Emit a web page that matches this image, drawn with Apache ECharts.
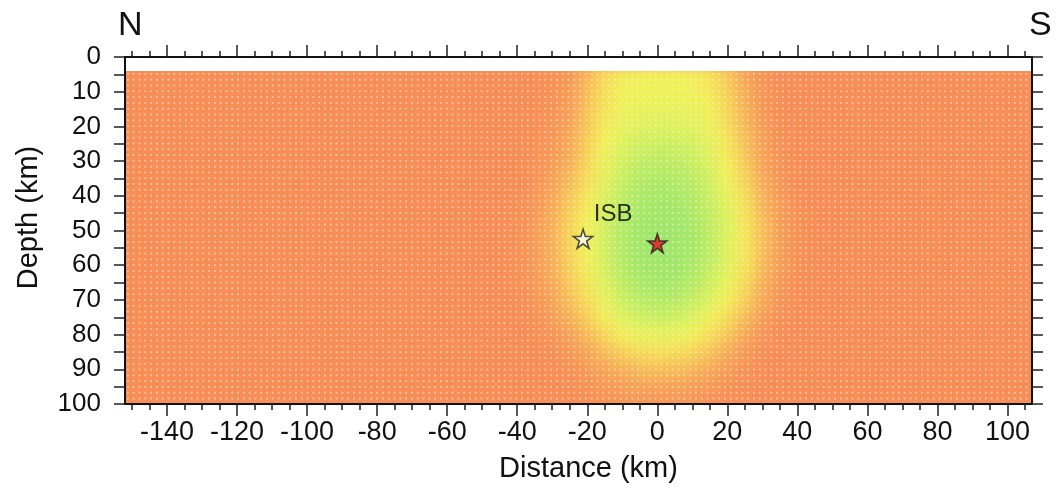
<!DOCTYPE html>
<html><head><meta charset="utf-8">
<script src="https://cdn.jsdelivr.net/npm/echarts@6/dist/echarts.min.js"></script>
<style>
html,body{margin:0;padding:0;background:#fff;}
#wrap{position:relative;width:1061px;height:488px;overflow:hidden;background:#fff;}
#fieldClip{position:absolute;overflow:hidden;}
#field{position:absolute;filter:blur(7px);}
#dots{position:absolute;left:0;top:0;right:0;bottom:0;
  background-image:radial-gradient(circle, rgba(255,235,210,0.55) 0.8px, rgba(255,235,210,0) 1.5px);
  background-size:5.8px 5.8px;}
#main{position:absolute;left:0;top:0;width:1061px;height:488px;}
</style></head><body>
<div id="wrap"><div id="fieldClip"><div id="field"></div><div id="dots"></div></div><div id="main"></div></div>
<script>
// ---------------- data ----------------
const xTickLabels = [-140,-120,-100,-80,-60,-40,-20,0,20,40,60,80,100];
const xTicks = [-150,-145,-140,-135,-130,-125,-120,-115,-110,-105,-100,-95,-90,-85,-80,-75,-70,-65,-60,-55,-50,-45,-40,-35,-30,-25,-20,-15,-10,-5,0,5,10,15,20,25,30,35,40,45,50,55,60,65,70,75,80,85,90,95,100,105];
const yTickLabels = [0,10,20,30,40,50,60,70,80,90,100];
const yTicks = [0,5,10,15,20,25,30,35,40,45,50,55,60,65,70,75,80,85,90,95,100];

// misfit field (0 = best fit / green, 10 = background / orange)
const fieldX = [-45,-40,-35,-30,-25,-20,-15,-10,-5,0,5,10,15,20,25,30,35,40,45];
const fieldDepth = [5,10,15,20,25,30,35,40,45,50,55,60,65,70,75,80,85,90,95,100];
const misfit = [
 [10,10,10,9.8,9.2,7.5,6,5.3,5,5,5,5.1,5.6,6.8,8.3,9.6,10,10,10],
 [10,10,10,9.7,9,7.3,5.8,5.1,4.8,4.8,4.8,4.9,5.4,6.5,8,9.4,10,10,10],
 [10,10,10,9.6,8.8,7,5.6,4.8,4.5,4.4,4.4,4.6,5.1,6.2,7.7,9.2,9.9,10,10],
 [10,10,9.9,9.4,8.5,6.8,5.3,4.4,4,3.9,3.9,4.1,4.7,5.9,7.4,9,9.8,10,10],
 [10,10,9.8,9.2,8.2,6.5,5,4,3.4,3.2,3.2,3.5,4.3,5.5,7.1,8.7,9.7,10,10],
 [10,10,9.7,9,7.9,6.2,4.6,3.4,2.7,2.4,2.5,3,3.9,5.2,6.8,8.5,9.6,10,10],
 [10,10,9.6,8.7,7.4,5.9,4.2,2.9,2.1,1.8,1.9,2.4,3.4,4.8,6.3,8.1,9.4,10,10],
 [10,9.9,9.4,8.3,6.9,5.5,3.8,2.5,1.6,1.3,1.4,2,3,4.4,5.9,7.7,9.1,9.9,10],
 [10,9.8,9.2,8,6.5,5.2,3.5,2.1,1.2,0.8,1,1.6,2.7,4.1,5.6,7.4,8.9,9.8,10],
 [10,9.8,9.1,7.8,6.3,5,3.3,1.9,0.9,0.5,0.7,1.3,2.5,3.9,5.4,7.2,8.8,9.8,10],
 [10,9.8,9.1,7.8,6.3,5,3.3,1.9,0.9,0.4,0.6,1.3,2.5,3.9,5.4,7.2,8.8,9.8,10],
 [10,9.8,9.1,7.9,6.4,5.2,3.5,2.1,1.1,0.6,0.8,1.5,2.7,4.1,5.6,7.4,8.9,9.8,10],
 [10,9.8,9.2,8.1,6.7,5.5,3.9,2.5,1.6,1.1,1.3,2,3.2,4.6,6,7.8,9.1,9.9,10],
 [10,9.9,9.4,8.5,7.2,5.9,4.4,3.1,2.3,1.9,2.1,2.8,3.9,5.2,6.5,8.2,9.4,10,10],
 [10,10,9.7,8.9,7.8,6.6,5.2,4,3.3,3,3.2,3.8,4.8,6,7.3,8.8,9.8,10,10],
 [10,10,9.9,9.4,8.6,7.4,6.2,5.2,4.6,4.4,4.5,5,5.9,6.9,8.3,9.5,10,10,10],
 [10,10,10,9.8,9.3,8.4,7.3,6.5,6,5.8,5.9,6.3,7,8,9.1,9.9,10,10,10],
 [10,10,10,10,9.7,9.1,8.4,7.8,7.4,7.2,7.3,7.6,8.2,8.9,9.6,10,10,10,10],
 [10,10,10,10,9.9,9.6,9.2,8.9,8.6,8.5,8.6,8.8,9.2,9.6,9.9,10,10,10,10],
 [10,10,10,10,10,9.9,9.7,9.5,9.4,9.4,9.4,9.5,9.7,9.9,10,10,10,10,10]
];

const stationNames = ['ISB'];
const stationX = [-21.2];
const stationDepth = [52.4];
const eventX = [0];
const eventDepth = [53.7];

// ---------------- layout ----------------
const X_MIN = -152, X_MAX = 107, D_MIN = 0, D_MAX = 100, FIELD_TOP = 4;
const G = {left:125, top:57, right:1032, bottom:404};
const colors = ['#98E56C','#A2E86A','#B3EB66','#C8EF61','#DEF25D','#F2F258','#F6DC58','#F7C458','#F7AC58','#F79C58','#F78E57'];
const FONT = '"Liberation Sans", Arial, Helvetica, sans-serif';

const pxPerKm = (G.bottom - G.top) / (D_MAX - D_MIN);
const clipTop = Math.round(G.top + FIELD_TOP * pxPerKm);
const PAD = 40;
const clip = document.getElementById('fieldClip');
clip.style.left = G.left + 'px';
clip.style.top = clipTop + 'px';
clip.style.width = (G.right - G.left) + 'px';
clip.style.height = (G.bottom - clipTop) + 'px';
const fdiv = document.getElementById('field');
fdiv.style.left = -PAD + 'px';
fdiv.style.top = -PAD + 'px';
fdiv.style.width = (G.right - G.left + 2*PAD) + 'px';
fdiv.style.height = (G.bottom - clipTop + 2*PAD) + 'px';

const cells = [];
misfit.forEach((row, i) => row.forEach((v, j) => cells.push([fieldX[j], fieldDepth[i], v])));
const hx = (fieldX[1] - fieldX[0]) / 2, hd = (fieldDepth[1] - fieldDepth[0]) / 2;

const fieldChart = echarts.init(fdiv, null, {renderer:'canvas'});
fieldChart.setOption({
  animation:false,
  backgroundColor: colors[colors.length-1],
  grid:{left:PAD, right:PAD, top:PAD, bottom:PAD},
  xAxis:{type:'value', min:X_MIN, max:X_MAX, show:false},
  yAxis:{type:'value', min:FIELD_TOP, max:D_MAX, inverse:true, show:false},
  visualMap:{type:'continuous', show:false, min:0, max:10, dimension:2, seriesIndex:0, inRange:{color:colors}},
  series:[{
    type:'custom', clip:false, data:cells, encode:{x:0, y:1},
    renderItem:function(params, api){
      const x = api.value(0), d = api.value(1);
      const p0 = api.coord([x - hx, d - hd]);
      const p1 = api.coord([x + hx, d + hd]);
      return {type:'rect', shape:{x:Math.min(p0[0],p1[0]), y:Math.min(p0[1],p1[1]), width:Math.abs(p1[0]-p0[0])+0.6, height:Math.abs(p1[1]-p0[1])+0.6}, style:{fill:api.visual('color')}};
    }
  }]
});

// ---------------- main chart ----------------
const STAR = 'path://M50,2 L61.2,36.2 L97.6,36.3 L68.2,57.6 L79.4,92.2 L50,70.8 L20.6,92.2 L31.8,57.6 L2.4,36.3 L38.8,36.2 Z';
const axisLine = {show:true, onZero:false, lineStyle:{color:'#111', width:2}};
const noLine = {show:false, onZero:false};
const tickStyle = {color:'#222', width:1.5};
function xAx(pos, ticks, len, labels, line, extra){
  return Object.assign({
    type:'value', position:pos, min:X_MIN, max:X_MAX, gridIndex:0,
    axisLine: line ? axisLine : noLine,
    axisTick:{show:true, inside:false, length:len, customValues:ticks, lineStyle:tickStyle},
    axisLabel: labels ? {show:true, customValues:labels, fontSize:27, color:'#111', fontFamily:FONT, margin:15} : {show:false},
    splitLine:{show:false}, minorTick:{show:false}
  }, extra || {});
}
const main = echarts.init(document.getElementById('main'), null, {renderer:'canvas'});
main.setOption({
  animation:false,
  grid:{left:G.left, top:G.top, width:G.right-G.left, height:G.bottom-G.top},
  xAxis:[
    xAx('bottom', xTicks, 6, xTickLabels, true, {name:'Distance (km)', nameLocation:'middle', nameGap:50,
      nameTextStyle:{fontSize:29, color:'#111', fontFamily:FONT, padding:[0,0,0,20]}}),
    xAx('bottom', xTickLabels, 12, null, false),
    xAx('top', xTicks, 6, null, true),
    xAx('top', xTickLabels, 12, null, false)
  ],
  yAxis:[
    {type:'value', position:'left', min:D_MIN, max:D_MAX, inverse:true,
     axisLine:axisLine,
     axisTick:{show:true, length:11, customValues:yTicks, lineStyle:tickStyle},
     axisLabel:{show:true, customValues:yTickLabels, fontSize:26, color:'#111', fontFamily:FONT, margin:24, padding:[0,0,12,0]},
     splitLine:{show:false},
     name:'Depth (km)', nameLocation:'middle', nameGap:82,
     nameTextStyle:{fontSize:29, color:'#111', fontFamily:FONT, padding:[0,0,0,26]}},
    {type:'value', position:'right', min:D_MIN, max:D_MAX, inverse:true,
     axisLine:axisLine,
     axisTick:{show:true, length:11, customValues:yTicks, lineStyle:tickStyle},
     axisLabel:{show:false}, splitLine:{show:false}}
  ],
  graphic:[
    {type:'text', left:118, top:9, style:{text:'N', font:'34px ' + FONT, fill:'#111'}},
    {type:'text', left:1029, top:9, style:{text:'S', font:'34px ' + FONT, fill:'#111'}}
  ],
  series:[
    {type:'scatter', xAxisIndex:0, yAxisIndex:0, symbol:STAR, symbolSize:19, z:5,
     data: stationX.map((x,i) => ({value:[x, stationDepth[i]], name:stationNames[i]})),
     itemStyle:{color:'#ffffff', borderColor:'#222', borderWidth:1.6},
     label:{show:true, formatter:'{b}', position:'inside', offset:[30,-24], fontSize:24, color:'#000', fontFamily:FONT}},
    {type:'scatter', xAxisIndex:0, yAxisIndex:0, symbol:STAR, symbolSize:19, z:5,
     data: eventX.map((x,i) => [x, eventDepth[i]]),
     itemStyle:{color:'#E8101E', borderColor:'#222', borderWidth:1.6}}
  ]
});
</script>
</body></html>
